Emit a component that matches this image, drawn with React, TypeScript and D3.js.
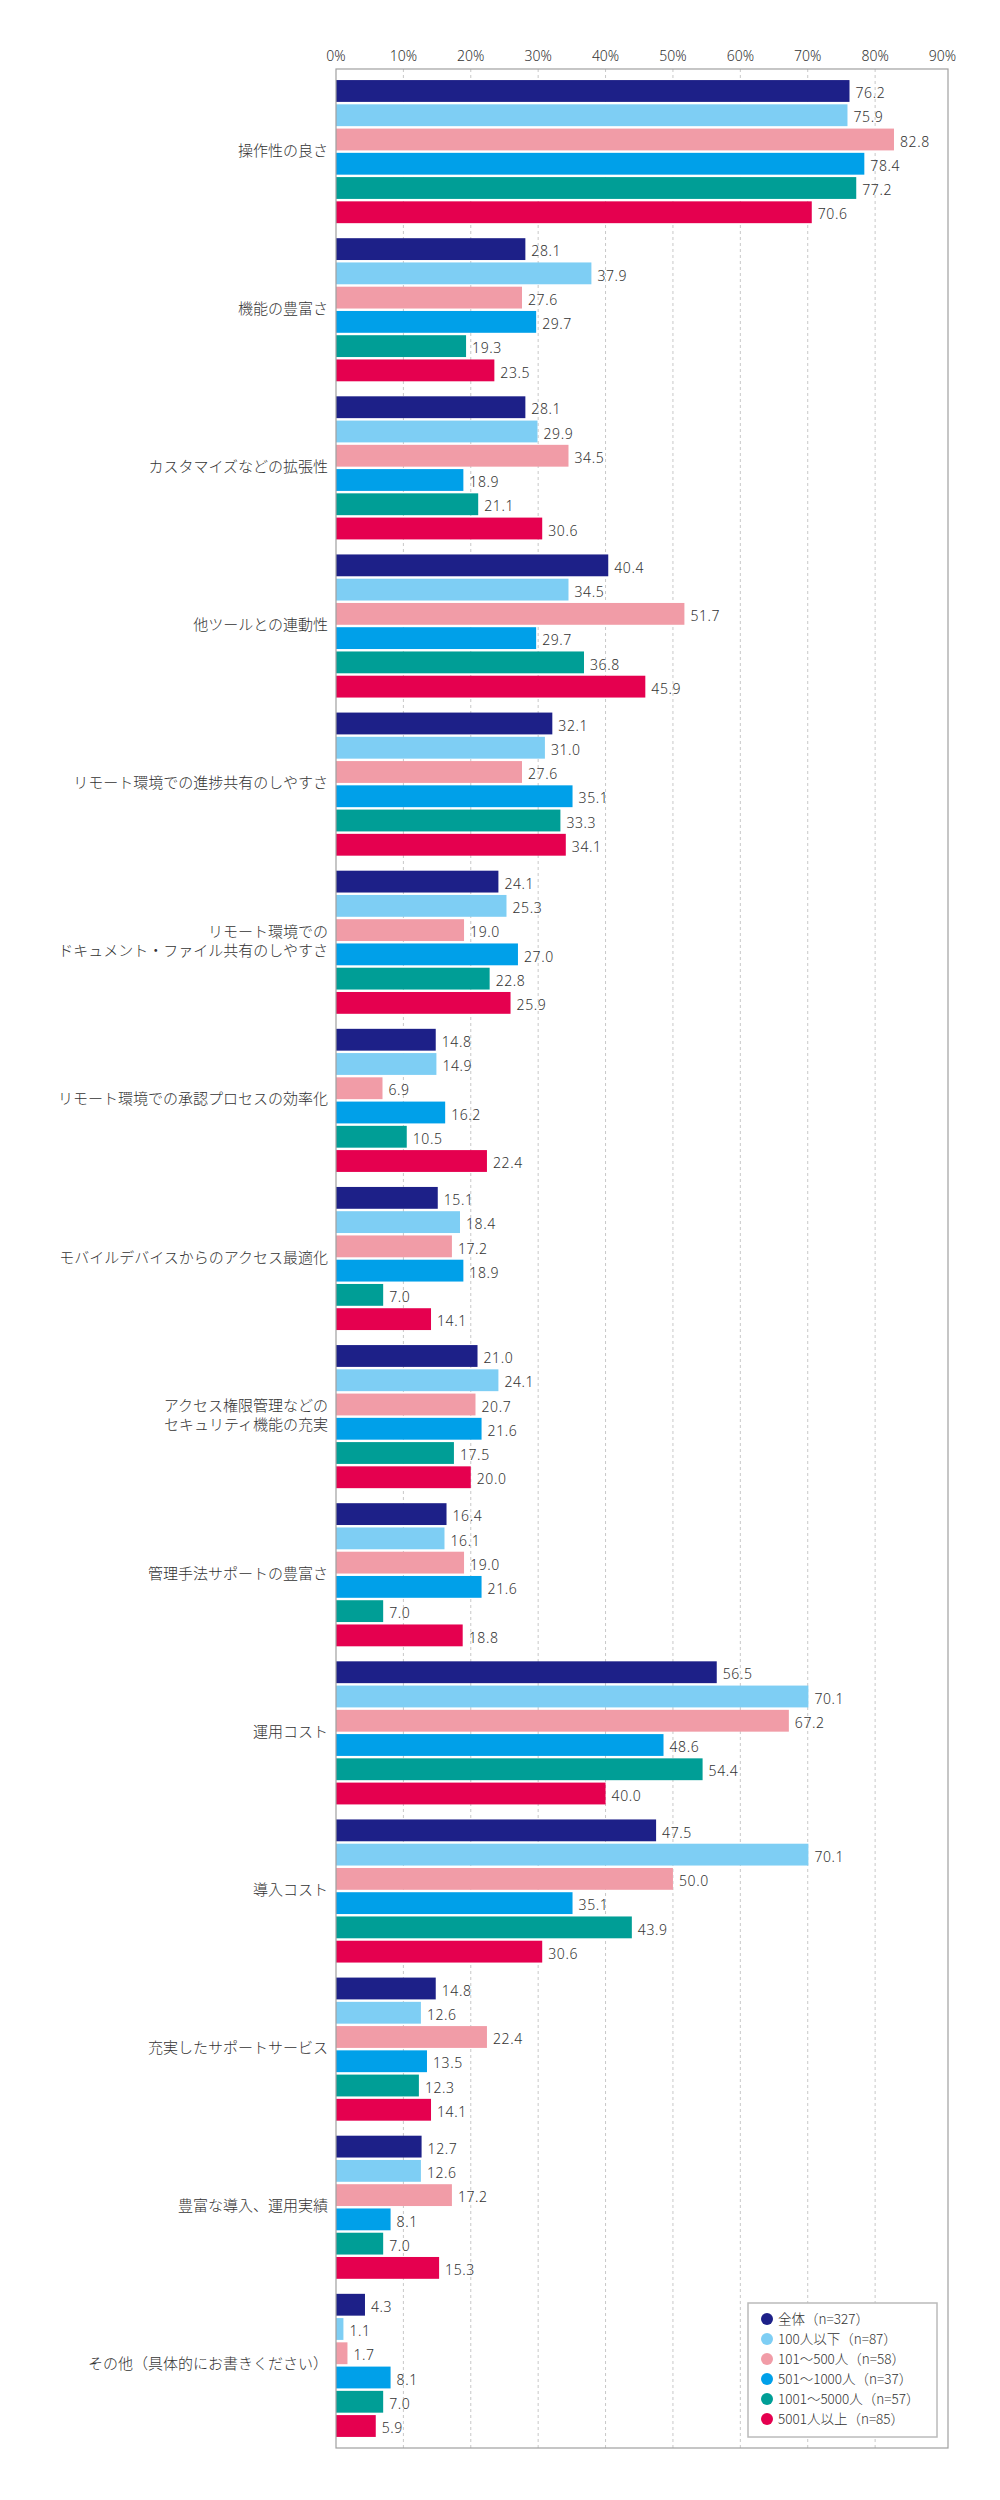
import React, { useRef, useEffect } from 'react';
import * as d3 from 'd3';

const categories = [
  '操作性の良さ',
  '機能の豊富さ',
  'カスタマイズなどの拡張性',
  '他ツールとの連動性',
  'リモート環境での進捗共有のしやすさ',
  'リモート環境での\nドキュメント・ファイル共有のしやすさ',
  'リモート環境での承認プロセスの効率化',
  'モバイルデバイスからのアクセス最適化',
  'アクセス権限管理などの\nセキュリティ機能の充実',
  '管理手法サポートの豊富さ',
  '運用コスト',
  '導入コスト',
  '充実したサポートサービス',
  '豊富な導入、運用実績',
  'その他（具体的にお書きください）',
];

const seriesNames = [
  '全体（n=327）',
  '100人以下（n=87）',
  '101～500人（n=58）',
  '501～1000人（n=37）',
  '1001～5000人（n=57）',
  '5001人以上（n=85）',
];

const seriesColors = ['#1d2088', '#7ecef4', '#f19ca7', '#00a0e9', '#009e96', '#e5004f'];

// one row per category, one value per series
const values: number[][] = [
  [76.2, 75.9, 82.8, 78.4, 77.2, 70.6],
  [28.1, 37.9, 27.6, 29.7, 19.3, 23.5],
  [28.1, 29.9, 34.5, 18.9, 21.1, 30.6],
  [40.4, 34.5, 51.7, 29.7, 36.8, 45.9],
  [32.1, 31.0, 27.6, 35.1, 33.3, 34.1],
  [24.1, 25.3, 19.0, 27.0, 22.8, 25.9],
  [14.8, 14.9, 6.9, 16.2, 10.5, 22.4],
  [15.1, 18.4, 17.2, 18.9, 7.0, 14.1],
  [21.0, 24.1, 20.7, 21.6, 17.5, 20.0],
  [16.4, 16.1, 19.0, 21.6, 7.0, 18.8],
  [56.5, 70.1, 67.2, 48.6, 54.4, 40.0],
  [47.5, 70.1, 50.0, 35.1, 43.9, 30.6],
  [14.8, 12.6, 22.4, 13.5, 12.3, 14.1],
  [12.7, 12.6, 17.2, 8.1, 7.0, 15.3],
  [4.3, 1.1, 1.7, 8.1, 7.0, 5.9],
];

const xTicks = [0, 10, 20, 30, 40, 50, 60, 70, 80, 90];

const FONT = "'Noto Sans CJK JP', 'Noto Sans', sans-serif";
const NUM_FONT = "'Noto Sans', 'Noto Sans CJK JP', sans-serif";

export default function App() {
  const svgRef = useRef<SVGSVGElement>(null);

  useEffect(() => {
    document.body.style.margin = '0';
    if (!svgRef.current) return;
    const svg = d3.select(svgRef.current);
    svg.selectAll('*').remove();

    const left = 336, right = 942.5, frameRight = 948;
    const top = 69, bottom = 2448;

    const x = d3.scaleLinear().domain([0, 90]).range([left, right]);
    const y0 = d3.scaleBand<string>().domain(categories).range([top, bottom])
      .paddingInner(0.095).paddingOuter(0.07);
    const y1 = d3.scaleBand<string>().domain(seriesNames).range([0, y0.bandwidth()])
      .paddingInner(0.1);

    // grid
    svg.append('g').selectAll('line')
      .data(xTicks.filter(t => t > 0 && t < 90))
      .join('line')
      .attr('x1', d => x(d)).attr('x2', d => x(d))
      .attr('y1', top).attr('y2', bottom)
      .attr('stroke', '#c8c8c8').attr('stroke-width', 1)
      .attr('stroke-dasharray', '3,3');

    // tick labels
    svg.append('g').selectAll('text')
      .data(xTicks)
      .join('text')
      .attr('x', d => x(d)).attr('y', 57)
      .attr('text-anchor', 'middle').attr('dominant-baseline', 'middle')
      .attr('font-family', NUM_FONT).attr('font-size', 14).attr('font-weight', 300).attr('fill', '#333')
      .text(d => `${d}%`);

    // bars
    const groups = svg.append('g').selectAll('g')
      .data(categories)
      .join('g')
      .attr('transform', d => `translate(0,${y0(d)})`);

    groups.each(function (cat, ci) {
      const g = d3.select(this);
      const rows = values[ci].map((v, si) => ({ v, s: seriesNames[si], c: seriesColors[si] }));
      g.selectAll('rect').data(rows).join('rect')
        .attr('x', x(0))
        .attr('y', d => y1(d.s)!)
        .attr('width', d => x(d.v) - x(0))
        .attr('height', y1.bandwidth())
        .attr('fill', d => d.c);
      g.selectAll('text.val').data(rows).join('text')
        .attr('class', 'val')
        .attr('x', d => x(d.v) + 6)
        .attr('y', d => y1(d.s)! + y1.bandwidth() / 2 + 3.5)
        .attr('dominant-baseline', 'middle')
        .attr('font-family', NUM_FONT).attr('font-size', 14).attr('font-weight', 300).attr('fill', '#333')
        .attr('letter-spacing', 0.6)
        .text(d => d.v.toFixed(1));

      const lines = cat.split('\n');
      const cy = y0.bandwidth() / 2;
      const lh = 19;
      const lab = g.append('text')
        .attr('text-anchor', 'end')
        .attr('font-family', FONT).attr('font-size', 15).attr('font-weight', 300).attr('fill', '#333');
      lines.forEach((ln, i) => {
        lab.append('tspan')
          .attr('x', 328)
          .attr('y', cy + (i - (lines.length - 1) / 2) * lh)
          .attr('dominant-baseline', 'middle')
          .text(ln);
      });
    });

    // frame
    svg.append('rect')
      .attr('x', left).attr('y', top)
      .attr('width', frameRight - left).attr('height', bottom - top)
      .attr('fill', 'none').attr('stroke', '#a0a0a0').attr('stroke-width', 1.2);

    // legend
    const lg = svg.append('g');
    lg.append('rect')
      .attr('x', 748).attr('y', 2303).attr('width', 189).attr('height', 134)
      .attr('fill', '#fff').attr('stroke', '#bbb').attr('stroke-width', 1.5);
    const items = lg.selectAll('g.item').data(seriesNames).join('g')
      .attr('class', 'item')
      .attr('transform', (d, i) => `translate(767,${2319 + i * 20})`);
    items.append('circle').attr('r', 6).attr('fill', (d, i) => seriesColors[i]);
    items.append('text')
      .attr('x', 11).attr('y', 1)
      .attr('dominant-baseline', 'middle')
      .attr('font-family', FONT).attr('font-size', 13.5).attr('font-weight', 300).attr('fill', '#333')
      .text(d => d);
  }, []);

  return <svg ref={svgRef} width={1000} height={2500} style={{ display: 'block', background: '#fff' }} />;
}
